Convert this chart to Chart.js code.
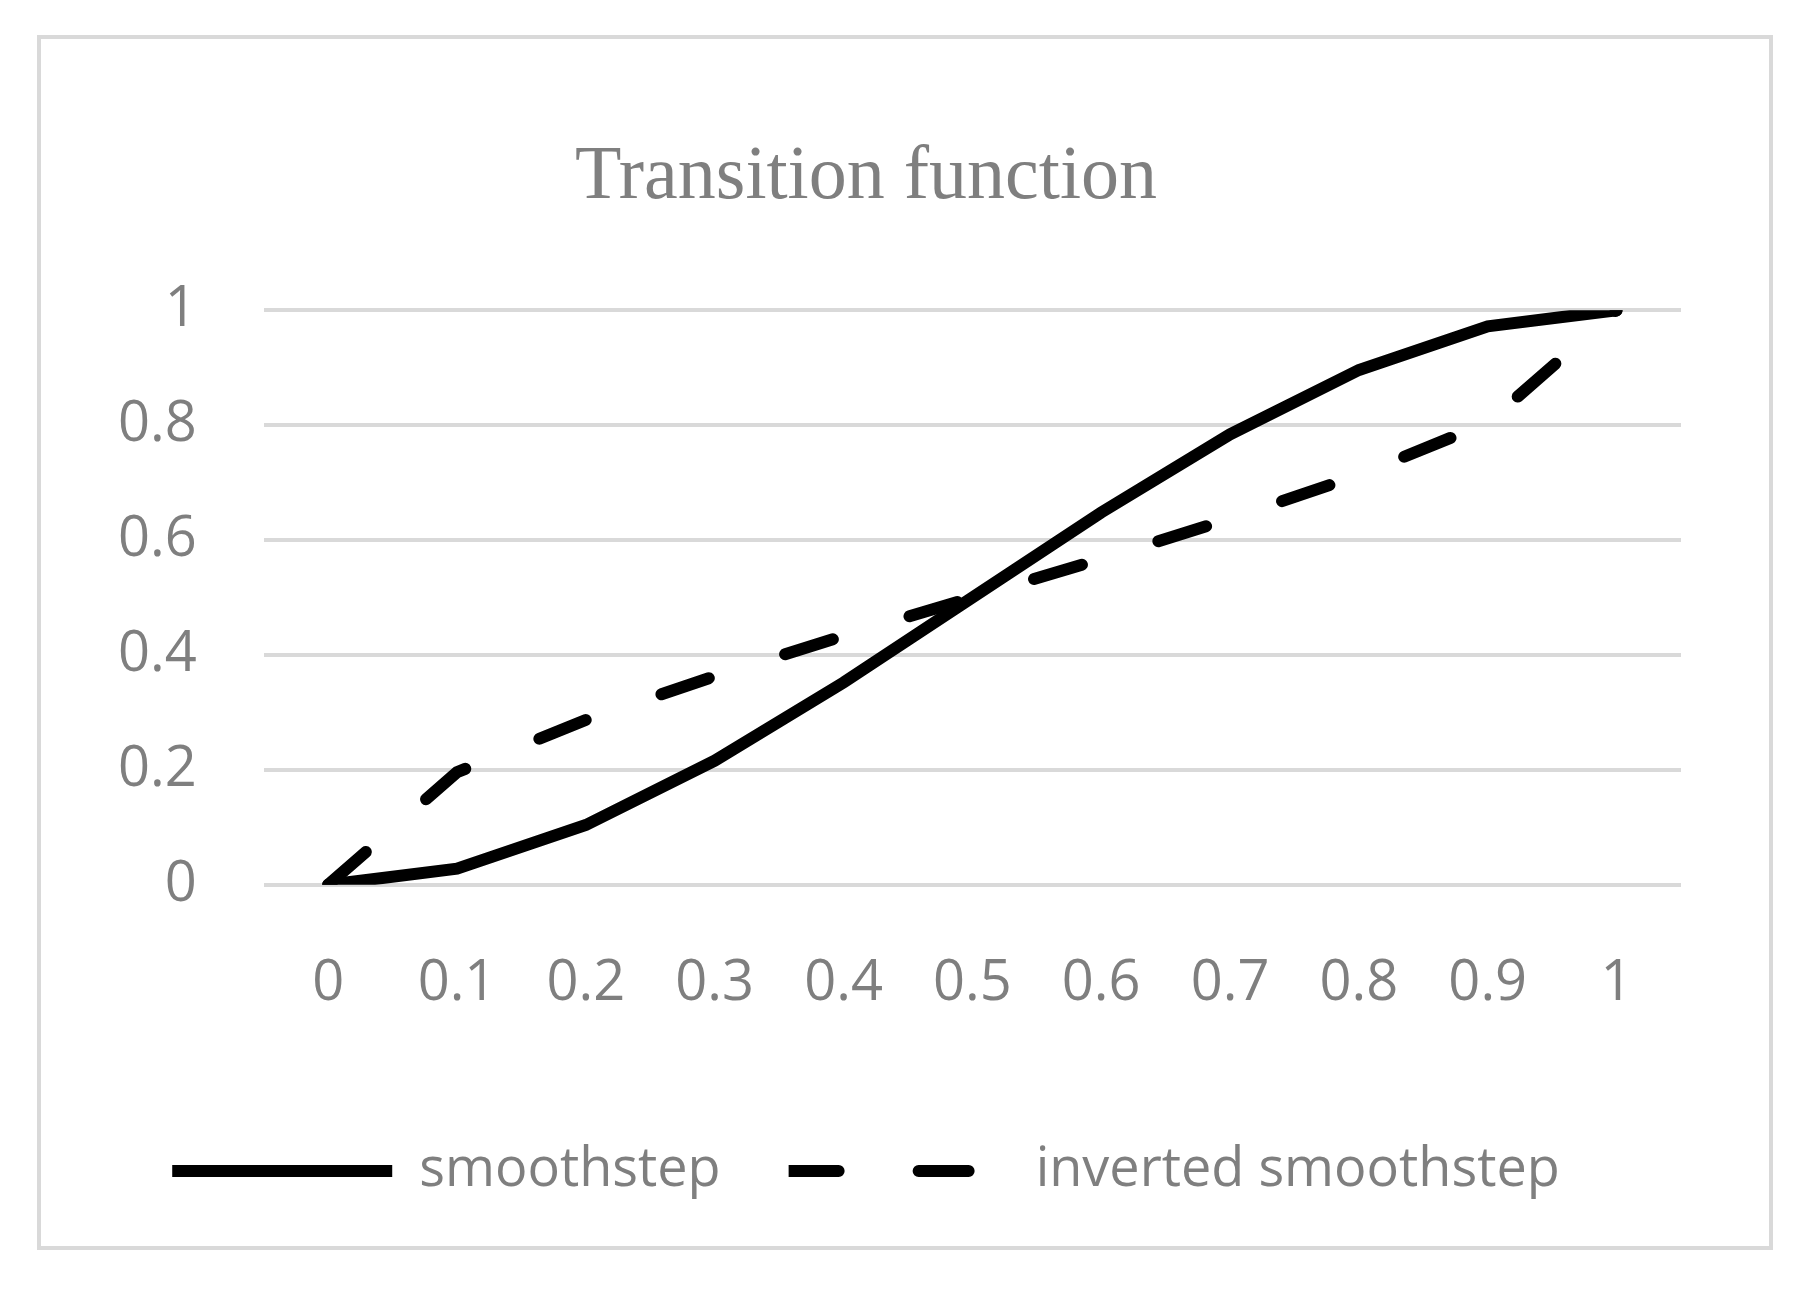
<!DOCTYPE html>
<html>
<head>
<meta charset="utf-8">
<script src="https://cdn.jsdelivr.net/npm/chart.js@4"></script>
<style>
  body { margin: 0; background: #fff; }
  #wrap { position: absolute; left: 37px; top: 35px; width: 1728px; height: 1207px; border: 4px solid #d9d9d9; }
</style>
</head>
<body>
<div id="wrap"><canvas id="myChart"></canvas></div>
<script>
// Categories (x values)
const labels = ['0', '0.1', '0.2', '0.3', '0.4', '0.5', '0.6', '0.7', '0.8', '0.9', '1'];

// Series values
const smoothstep = [0, 0.028, 0.104, 0.216, 0.352, 0.5, 0.648, 0.784, 0.896, 0.972, 1];
const invertedSmoothstep = [0, 0.196, 0.287, 0.363, 0.433, 0.5, 0.567, 0.637, 0.713, 0.804, 1];

const grey = '#7f7f7f';

const data = {
    labels: labels,
    datasets: [
        {
            label: 'smoothstep',
            data: smoothstep,
            borderColor: '#000',
            backgroundColor: '#000',
            borderWidth: 12,
            borderCapStyle: 'round',
            pointRadius: 0,
            tension: 0,
        },
        {
            label: 'inverted smoothstep',
            data: invertedSmoothstep,
            borderColor: '#000',
            backgroundColor: '#000',
            borderWidth: 12,
            borderDash: [50, 80],
            borderCapStyle: 'round',
            pointRadius: 0,
            tension: 0,
        }
    ]
};

const config = {
    type: 'line',
    data: data,
    options: {
        responsive: true,
        maintainAspectRatio: false,
        animation: false,
        layout: { padding: { left: 10, right: 88, top: 93, bottom: 38 } },
        plugins: {
            title: {
                display: true,
                text: 'Transition function',
                color: grey,
                font: { family: 'Liberation Serif', size: 76, weight: 'normal' },
                padding: { top: 0, bottom: 87 }
            },
            legend: {
                position: 'bottom',
                labels: {
                    color: grey,
                    font: { family: 'Open Sans', size: 54 },
                    boxWidth: 220,
                    boxHeight: 0,
                    padding: 68
                }
            },
            tooltip: { enabled: false }
        },
        scales: {
            x: {
                offset: true,
                grid: { display: false },
                border: { display: false },
                ticks: { color: grey, font: { family: 'Open Sans', size: 56 }, padding: 58, maxRotation: 0 }
            },
            y: {
                min: 0,
                max: 1,
                grid: { color: '#d9d9d9', lineWidth: 4, drawTicks: false },
                border: { display: false },
                ticks: {
                    stepSize: 0.2,
                    color: grey,
                    font: { family: 'Open Sans', size: 56 },
                    padding: 67,
                    callback: v => String(Math.round(v * 10) / 10)
                }
            }
        }
    }
};

const ctx = document.getElementById('myChart').getContext('2d');
new Chart(ctx, config);
</script>
</body>
</html>
